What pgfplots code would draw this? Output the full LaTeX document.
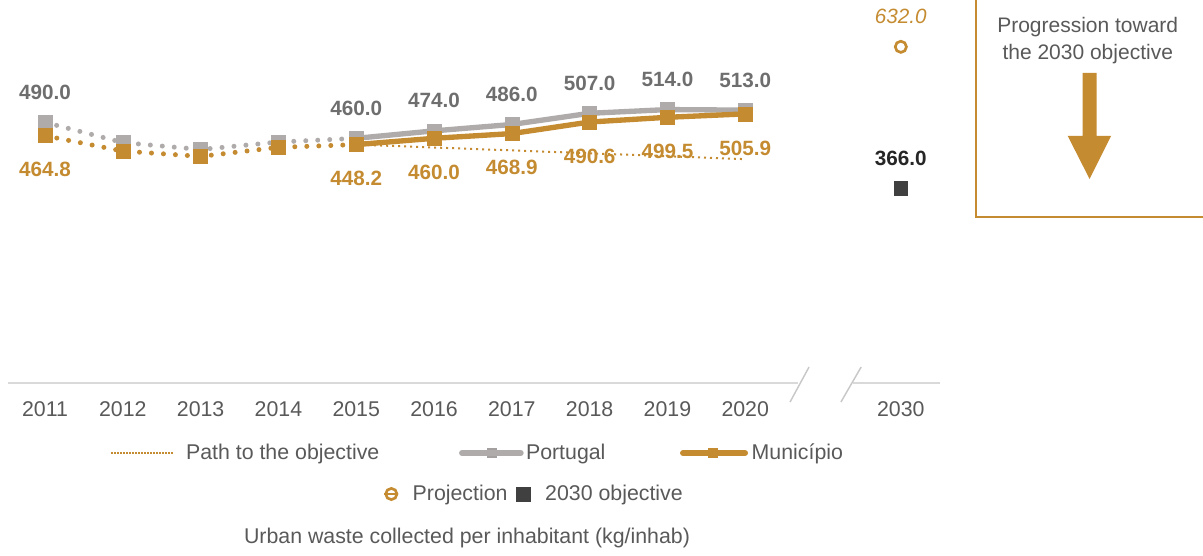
\documentclass[border=0pt]{standalone}
\usepackage{fontspec}
\setmainfont{Liberation Sans}
\usepackage{pgfplots}
\pgfplotsset{compat=1.18}
\definecolor{gold}{HTML}{C48B30}
\definecolor{pgrey}{HTML}{AFABAB}
\definecolor{pgreyd}{HTML}{A4A0A0}
\definecolor{lblgrey}{HTML}{6E6E6E}
\definecolor{txtgrey}{HTML}{595959}
\definecolor{darksq}{HTML}{404040}
\definecolor{darklbl}{HTML}{262626}
\definecolor{axgrey}{HTML}{D9D9D9}
\definecolor{slgrey}{HTML}{C8C8C8}
\begin{document}
\begin{tikzpicture}
\path[use as bounding box] (0pt,0pt) rectangle (902.25pt,-417pt);
\begin{axis}[
  at={(4.6pt,-287.25pt)}, anchor=south west,
  width=700.2pt, height=287.25pt, scale only axis,
  xmin=-0.5, xmax=11.5, ymin=0, ymax=720,
  clip=false,
  axis x line=bottom, axis y line=none,
  x axis line style={draw=none},
  xtick={0,1,2,3,4,5,6,7,8,9,11},
  xticklabels={2011,2012,2013,2014,2015,2016,2017,2018,2019,2020,2030},
  major tick length=0pt,
  xticklabel style={anchor=center, yshift=-19.5pt, text=txtgrey, font=\fontsize{16}{18}\selectfont},
  legend columns=3,
  legend cell align=left,
  legend image code/.code={\draw[mark repeat=2,mark phase=2,#1] plot coordinates {(2.5pt,0pt)(22.5pt,0pt)(45.5pt,0pt)}; \path (0pt,0pt) -- (48pt,0pt);},
  legend style={at={(0.1113,-0.1828)}, anchor=west, draw=none, fill=none,
    inner sep=0pt, outer sep=0pt, row sep=0pt, column sep=0pt,
    nodes={inner sep=0pt, outer sep=0pt, text=txtgrey, font=\fontsize{16}{18}\selectfont}},
]
% axis line with break
\draw[axgrey, line width=1.1pt] (axis cs:-0.476,0) -- (axis cs:9.68,0);
\draw[axgrey, line width=1.1pt] (axis cs:10.385,0) -- (axis cs:11.5,0);
\draw[slgrey, line width=1.1pt] ([yshift=-14.25pt]axis cs:9.576,0) -- ([yshift=12pt]axis cs:9.82,0);
\draw[slgrey, line width=1.1pt] ([yshift=-14.25pt]axis cs:10.23,0) -- ([yshift=12pt]axis cs:10.49,0);

% Portugal
\addplot[pgrey, line width=3.75pt, line cap=round, dash pattern=on 0pt off 9pt, forget plot]
  coordinates {(0,490)(1,452)(2,439)(3,453)(4,460)};
\addplot[pgrey, line width=4pt, forget plot]
  coordinates {(4,460)(5,474)(6,486)(7,507)(8,514)(9,513)};
\addplot[pgrey, only marks, mark=square*, mark size=5.25pt, forget plot]
  coordinates {(0,490)(1,452)(2,439)(3,453)(4,460)(5,474)(6,486)(7,507)(8,514)(9,513)};

% Municipio
\addplot[gold, line width=3.75pt, line cap=round, dash pattern=on 0pt off 9pt, forget plot]
  coordinates {(0,464.8)(1,436)(2,426)(3,443)(4,448.2)};
\addplot[gold, line width=4pt, forget plot]
  coordinates {(4,448.2)(5,460)(6,468.9)(7,490.6)(8,499.5)(9,505.9)};
\addplot[gold, only marks, mark=square*, mark size=5.25pt, forget plot]
  coordinates {(0,464.8)(1,436)(2,426)(3,443)(4,448.2)(5,460)(6,468.9)(7,490.6)(8,499.5)(9,505.9)};

% Path to the objective
\addplot[gold, line width=1.5pt, dash pattern=on 1.5pt off 3pt, forget plot]
  coordinates {(4,448.2)(5,442.7)(6,437.3)(7,431.8)(8,426.3)(9,420.8)};

% Projection and objective
\addplot[gold, only marks, mark=o, mark size=4.2pt, line width=2pt, forget plot]
  coordinates {(11,632)};
\addplot[darksq, only marks, mark=square*, mark size=5pt, forget plot]
  coordinates {(11,366)};

% labels
\addplot[draw=none, mark=none, forget plot, point meta=explicit symbolic, nodes near coords,
  every node near coord/.append style={anchor=center, yshift=22.5pt, text=lblgrey, font=\bfseries\fontsize{15.5}{18}\selectfont}]
  coordinates {(0,490)[490.0] (4,460)[460.0] (5,474)[474.0] (6,486)[486.0] (7,507)[507.0] (8,514)[514.0] (9,513)[513.0]};
\addplot[draw=none, mark=none, forget plot, point meta=explicit symbolic, nodes near coords,
  every node near coord/.append style={anchor=center, yshift=-25.5pt, text=gold, font=\bfseries\fontsize{15.5}{18}\selectfont}]
  coordinates {(0,464.8)[464.8] (4,448.2)[448.2] (5,460)[460.0] (6,468.9)[468.9] (7,490.6)[490.6] (8,499.5)[499.5] (9,505.9)[505.9]};
\addplot[draw=none, mark=none, forget plot, point meta=explicit symbolic, nodes near coords,
  every node near coord/.append style={anchor=center, yshift=22.5pt, text=gold, font=\itshape\fontsize{15.5}{18}\selectfont}]
  coordinates {(11,632)[632.0]};
\addplot[draw=none, mark=none, forget plot, point meta=explicit symbolic, nodes near coords,
  every node near coord/.append style={anchor=center, yshift=22.5pt, text=darklbl, font=\bfseries\fontsize{15.5}{18}\selectfont}]
  coordinates {(11,366)[366.0]};

% legend row 1
\addlegendimage{gold, line width=1.5pt, dash pattern=on 1.5pt off 3pt}
\addlegendentry{\makebox[212.25pt][l]{\hspace{7.5pt}Path to the objective}}
\addlegendimage{pgrey, line width=4.5pt, line cap=round, shorten >=4pt, mark=square*, mark size=3.5pt, mark options={solid, fill=pgreyd, draw=pgreyd, line width=0pt}}
\addlegendentry{\makebox[113.25pt][l]{\hspace{-2.25pt}Portugal}}
\addlegendimage{gold, line width=4.5pt, line cap=round, shorten >=1.5pt, mark=square*, mark size=3.5pt, mark options={solid, fill=gold, draw=gold, line width=0pt}}
\addlegendentry{\hspace{1.25pt}Município}
\end{axis}

% legend row 2
\begin{axis}[
  at={(287.25pt,-370.5pt)}, anchor=south west,
  width=10pt, height=10pt, scale only axis, hide axis,
  xmin=0, xmax=1, ymin=0, ymax=1,
  legend columns=2,
  legend cell align=left,
  legend image code/.code={\draw[#1] plot coordinates {(5.25pt,0pt)}; \path (0pt,0pt) -- (10.5pt,0pt);},
  legend style={at={(0,0)}, anchor=west, draw=none, fill=none,
    inner sep=0pt, outer sep=0pt, row sep=0pt, column sep=0pt,
    nodes={inner sep=0pt, outer sep=0pt, text=txtgrey, font=\fontsize{16}{18}\selectfont}},
]
\addlegendimage{only marks, gold, mark=o, mark size=4.2pt, line width=2pt}
\addlegendentry{\makebox[87pt][l]{\hspace{9.75pt}Projection}}
\addlegendimage{only marks, darksq, mark=square*, mark size=5.25pt}
\addlegendentry{\hspace{11.25pt}2030 objective}
\end{axis}

\node[text=txtgrey, font=\fontsize{16}{18}\selectfont] at (350.25pt,-403.5pt) {Urban waste collected per inhabitant (kg/inhab)};

% right box
\draw[gold, line width=1.5pt] (731.8pt,-162.5pt) rectangle (905pt,3pt);
\node[text=txtgrey, align=center, font=\fontsize{15.75}{20.25}\selectfont] at (815.8pt,-30.4pt) {Progression toward\\the 2030 objective};
\fill[gold] (811.9pt,-54.75pt) -- (822.5pt,-54.75pt) -- (822.5pt,-102pt) -- (833.25pt,-102pt) -- (817.2pt,-134.25pt) -- (800.8pt,-102pt) -- (811.9pt,-102pt) -- cycle;
\end{tikzpicture}
\end{document}
